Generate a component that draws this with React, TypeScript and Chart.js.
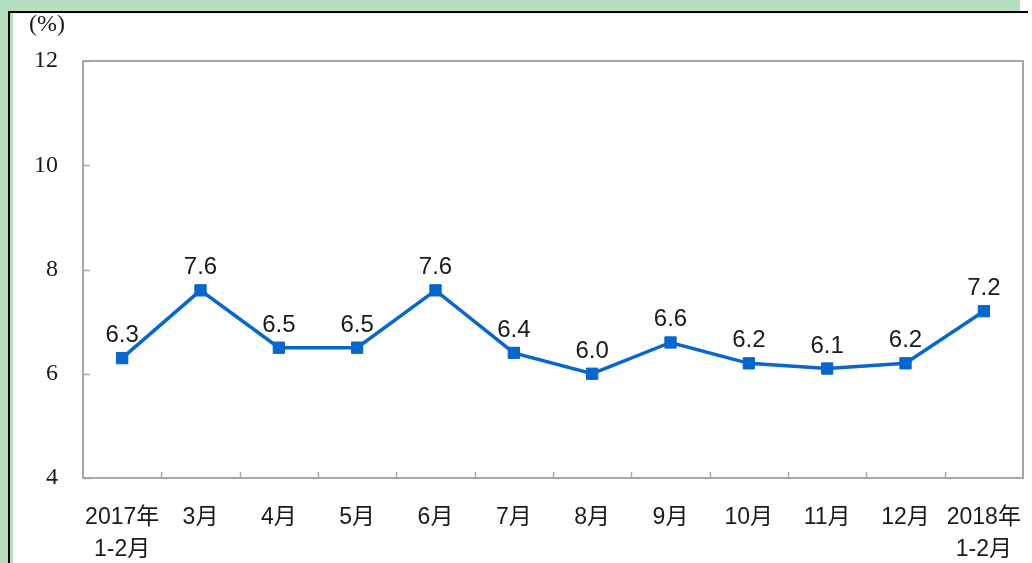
import React, { useEffect, useRef } from "react";
import { Chart, registerables } from "chart.js";

Chart.register(...registerables);

const categories: (string | string[])[] = [
  ["2017年", "1-2月"], "3月", "4月", "5月", "6月", "7月", "8月", "9月", "10月", "11月", "12月", ["2018年", "1-2月"],
];
const growth: number[] = [6.3, 7.6, 6.5, 6.5, 7.6, 6.4, 6.0, 6.6, 6.2, 6.1, 6.2, 7.2];
const yTicks: number[] = [4, 6, 8, 10, 12];
const unitLabel = "(%)";

const LINE = "#0866cc";
const AXIS = "#a6a6a6";

const decorPlugin = {
  id: "decor",
  afterDraw(chart: any) {
    const { ctx, chartArea, scales } = chart;
    const { left, right, top, bottom } = chartArea;
    ctx.save();
    ctx.strokeStyle = AXIS;
    ctx.lineWidth = 2;
    ctx.strokeRect(left, top, right - left, bottom - top);
    ctx.lineWidth = 1.5;
    for (const v of yTicks) {
      const y = Math.round(scales.y.getPixelForValue(v)) + 0.5;
      ctx.beginPath();
      ctx.moveTo(left, y);
      ctx.lineTo(left + 7, y);
      ctx.stroke();
    }
    for (let i = 0; i < categories.length - 1; i++) {
      const x = Math.round((scales.x.getPixelForValue(i) + scales.x.getPixelForValue(i + 1)) / 2) + 0.5;
      ctx.beginPath();
      ctx.moveTo(x, bottom);
      ctx.lineTo(x, bottom - 6);
      ctx.stroke();
    }
    ctx.fillStyle = "#1a1a1a";
    ctx.font = '24px "Liberation Serif", serif';
    ctx.textAlign = "center";
    ctx.textBaseline = "middle";
    ctx.fillText(unitLabel, 47, 25);
    ctx.restore();
  },
  afterDatasetsDraw(chart: any) {
    const { ctx } = chart;
    const meta = chart.getDatasetMeta(0);
    ctx.save();
    ctx.fillStyle = "#1a1a1a";
    ctx.font = '24px "Liberation Sans", Arial, sans-serif';
    ctx.textAlign = "center";
    ctx.textBaseline = "alphabetic";
    meta.data.forEach((pt: any, i: number) => {
      ctx.fillText(growth[i].toFixed(1), pt.x, pt.y - 16);
    });
    ctx.restore();
  },
};

export default function App() {
  const ref = useRef<HTMLCanvasElement>(null);
  useEffect(() => {
    const chart = new Chart(ref.current!, {
      type: "line",
      data: {
        labels: categories,
        datasets: [
          {
            data: growth,
            borderColor: LINE,
            backgroundColor: LINE,
            borderWidth: 3.5,
            pointStyle: "rect",
            pointRadius: 8,
            pointBorderWidth: 1,
            pointBackgroundColor: LINE,
            pointBorderColor: LINE,
            tension: 0,
          },
        ],
      },
      options: {
        animation: false,
        responsive: false,
        maintainAspectRatio: false,
        layout: { padding: { top: 61, right: 4, left: 0, bottom: 0 } },
        plugins: { legend: { display: false }, tooltip: { enabled: false }, title: { display: false } },
        scales: {
          x: {
            type: "category",
            offset: true,
            grid: { display: false, drawTicks: false },
            border: { display: false },
            ticks: {
              color: "#1a1a1a",
              font: { family: '"Liberation Sans", "Noto Sans CJK SC", sans-serif', size: 23, lineHeight: 1.38 },
              padding: 24,
              maxRotation: 0,
              autoSkip: false,
            },
            afterFit(scale: any) {
              scale.height = 85;
              scale.paddingLeft = 0;
              scale.paddingRight = 0;
            },
          },
          y: {
            min: 4,
            max: 12,
            grid: { display: false, drawTicks: false },
            border: { display: false },
            ticks: {
              stepSize: 2,
              color: "#1a1a1a",
              font: { family: '"Liberation Serif", serif', size: 24 },
              padding: 25,
            },
            afterFit(scale: any) {
              scale.width = 83;
              scale.paddingTop = 0;
              scale.paddingBottom = 0;
            },
          },
        },
      },
      plugins: [decorPlugin],
    });
    return () => chart.destroy();
  }, []);

  return (
    <div style={{ position: "fixed", left: 0, top: 0, width: 1032, height: 563, background: "#fff", overflow: "hidden" }}>
      <div style={{ position: "absolute", left: 0, top: 0, width: 1020, height: 11, background: "#b6dfc0" }} />
      <div style={{ position: "absolute", left: 0, top: 0, width: 8, height: 563, background: "#b6dfc0" }} />
      <div style={{ position: "absolute", left: 10, top: 12, width: 3, height: 551, background: "#b6dfc0" }} />
      <div style={{ position: "absolute", left: 8, top: 11, width: 1020, height: 1.5, background: "#000" }} />
      <div style={{ position: "absolute", left: 8, top: 11, width: 2, height: 552, background: "#000" }} />
      <canvas ref={ref} width={1032} height={563} style={{ position: "absolute", left: 0, top: 0 }} />
    </div>
  );
}
